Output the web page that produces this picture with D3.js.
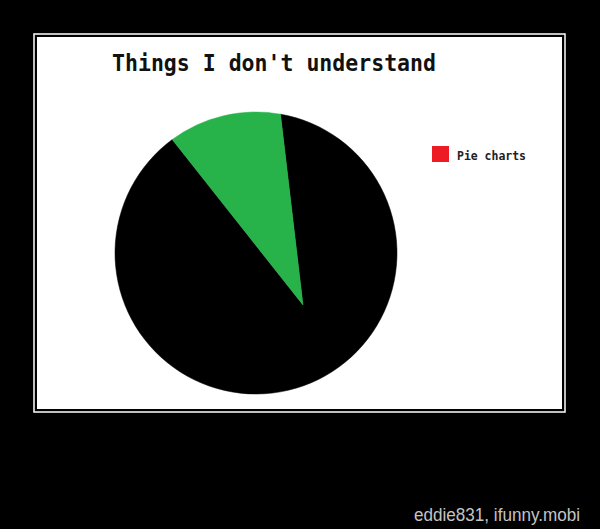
<!DOCTYPE html>
<html>
<head>
<meta charset="utf-8">
<script src="https://cdn.jsdelivr.net/npm/d3@7"></script>
<style>
  html, body { margin: 0; padding: 0; background: #000; }
  svg { display: block; }
</style>
</head>
<body>
<svg class="mysvg"></svg>
<script>
// chart values
const title = "Things I don't understand";
const sliceNames = ["Rest", "Wedge"];
const sliceValues = [87.1, 12.9];
const sliceColors = ["#000000", "#27b24a"];
const legendLabels = ["Pie charts"];
const legendColors = ["#ed1c24"];
const caption = "eddie831, ifunny.mobi";

const width = 600,
  height = 529;

const svg = d3.select(".mysvg").attr("width", width).attr("height", height);

svg.append("rect").attr("width", width).attr("height", height).attr("fill", "#000");

// double white frame
svg
  .append("rect")
  .attr("x", 34)
  .attr("y", 34)
  .attr("width", 531)
  .attr("height", 378)
  .attr("fill", "none")
  .attr("stroke", "#fff")
  .attr("stroke-width", 1.5);

svg
  .append("rect")
  .attr("x", 37)
  .attr("y", 37)
  .attr("width", 525)
  .attr("height", 372)
  .attr("fill", "#fff");

svg
  .append("text")
  .attr("x", 112)
  .attr("y", 71)
  .attr("textLength", 324)
  .attr("lengthAdjust", "spacingAndGlyphs")
  .style("font-family", "'DejaVu Sans Mono', monospace")
  .style("font-weight", "bold")
  .style("font-size", "23px")
  .attr("fill", "#111")
  .text(title);

// pie: the hub of the slices sits off-centre
const cx = 256,
  cy = 253,
  radius = 141;
const hub = [47, 52];

const pie = d3
  .pie()
  .sort(null)
  .startAngle((10 * Math.PI) / 180)
  .endAngle((370 * Math.PI) / 180);

const arcs = pie(sliceValues);

const slicePath = (d) => {
  const p = d3.path();
  const a0 = d.startAngle - Math.PI / 2,
    a1 = d.endAngle - Math.PI / 2;
  p.moveTo(hub[0], hub[1]);
  p.lineTo(radius * Math.cos(a0), radius * Math.sin(a0));
  p.arc(0, 0, radius, a0, a1, false);
  p.closePath();
  return p.toString();
};

const g = svg.append("g").attr("transform", `translate(${cx}, ${cy})`);

g.selectAll(".slice")
  .data(arcs)
  .join("path")
  .attr("class", "slice")
  .attr("d", slicePath)
  .attr("fill", (d, i) => sliceColors[i])
  .attr("stroke", (d, i) => sliceColors[i])
  .attr("stroke-width", 0.5);

// legend
const legend = svg.append("g").attr("transform", "translate(432, 146)");

const items = legend
  .selectAll(".legend-item")
  .data(legendLabels)
  .join("g")
  .attr("class", "legend-item")
  .attr("transform", (_, i) => `translate(0, ${i * 20})`);

items
  .append("rect")
  .attr("width", 17)
  .attr("height", 16)
  .attr("fill", (d, i) => legendColors[i]);

items
  .append("text")
  .attr("x", 25)
  .attr("y", 14)
  .attr("textLength", 69)
  .attr("lengthAdjust", "spacingAndGlyphs")
  .style("font-family", "'DejaVu Sans Mono', monospace")
  .style("font-weight", "bold")
  .style("font-size", "12px")
  .attr("fill", "#222")
  .text((d) => d);

svg
  .append("text")
  .attr("x", 414)
  .attr("y", 521)
  .attr("textLength", 166)
  .attr("lengthAdjust", "spacingAndGlyphs")
  .style("font-family", "'Liberation Sans', Arial, sans-serif")
  .style("font-size", "18px")
  .attr("fill", "#c4c4c4")
  .text(caption);
</script>
</body>
</html>
